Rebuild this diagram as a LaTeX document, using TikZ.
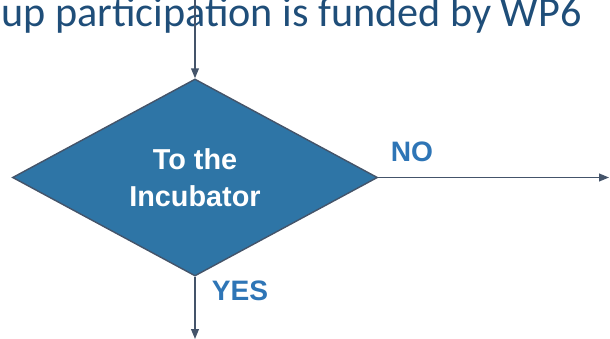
\documentclass[tikz,border=0pt]{standalone}
\usepackage{fontspec}
\setmainfont{Liberation Sans}
\newfontfamily\headfont{Carlito}
\usepackage{xcolor}
\usepackage{tikz}
\usetikzlibrary{shapes.geometric,arrows.meta}

\definecolor{headblue}{HTML}{1F4E79}
\definecolor{boxblue}{HTML}{2E75A6}
\definecolor{lineblue}{HTML}{44546A}
\definecolor{labelblue}{HTML}{2E75B6}

\tikzset{
    decision/.style={diamond, draw=lineblue, fill=boxblue, line width=1pt, inner sep=0pt,
        minimum width=9.125cm, minimum height=4.925cm, text=white, align=center,
        font=\fontsize{20.5}{26}\selectfont\bfseries},
    answer/.style={text=labelblue, font=\fontsize{20}{24}\selectfont\bfseries, inner sep=0pt},
    flow/.style={draw=lineblue, line width=1pt, -{Triangle[length=7pt,width=5.5pt]}}
}

\begin{document}
\begin{tikzpicture}[x=0.025cm, y=-0.025cm]
    \useasboundingbox (0,0) rectangle (610,339);

    \node[anchor=base west, inner sep=0pt, text=headblue, font=\headfont\fontsize{30}{36}\selectfont] (head) at (1,27) {up participation is funded by WP6};
    \node[decision] (dec) at (195,177.5) {To the\\Incubator};
    \node[answer] (no) at (412,152) {NO};
    \node[answer] (yes) at (240,291) {YES};

    \coordinate (top) at (195,-2);
    \coordinate (right) at (609,177.5);
    \coordinate (bottom) at (195,339);

    \draw[flow] (top) -- (dec.north);
    \draw[flow] (dec.east) -- (right);
    \draw[flow] (dec.south) -- (bottom);

\end{tikzpicture}
\end{document}
